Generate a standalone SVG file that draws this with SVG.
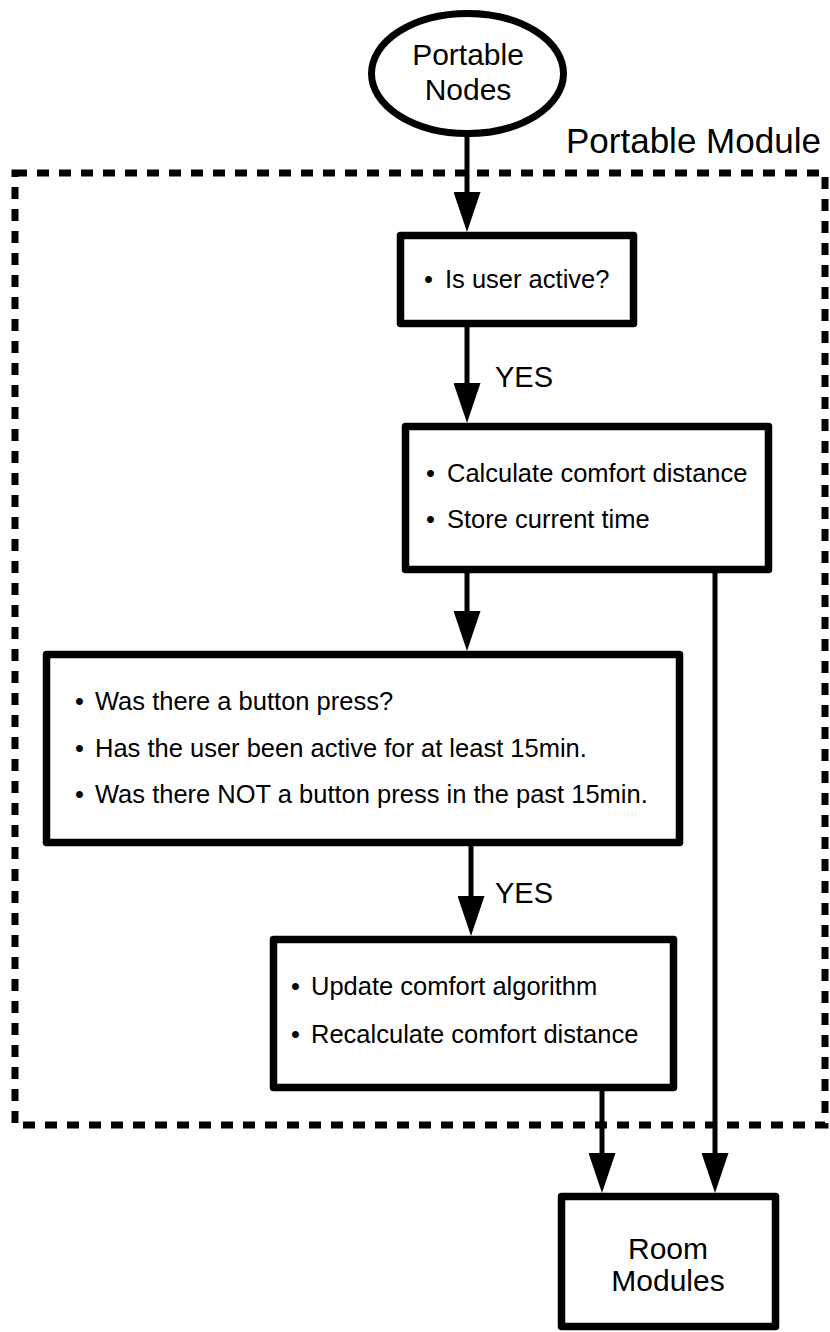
<svg xmlns="http://www.w3.org/2000/svg" width="830" height="1332" viewBox="0 0 830 1332">
  <style>
    .box { fill: #fff; stroke: #000; stroke-width: 7.5; stroke-linejoin: round; }
    .term { fill: #fff; stroke: #000; stroke-width: 7; }
    .frame { fill: none; stroke: #000; stroke-width: 7; stroke-dasharray: 12 10; }
    .link { fill: none; stroke: #000; stroke-width: 5; marker-end: url(#head); }
    text { font-family: "Liberation Sans", Arial, sans-serif; fill: #000; }
    .t { font-size: 25.5px; }
    .big { font-size: 30px; text-anchor: middle; }
    .lbl { font-size: 29px; }
    .title { font-size: 35px; }
  </style>
  <defs>
    <marker id="head" markerUnits="userSpaceOnUse" markerWidth="40" markerHeight="27" refX="20" refY="13.5" orient="auto">
      <path d="M0,0 L40,13.5 L0,27 Z" fill="#000"/>
    </marker>
  </defs>

  <rect width="830" height="1332" fill="#fff"/>

  <!-- module boundary -->
  <g id="portable-module">
    <rect class="frame" x="15" y="173" width="810" height="952"/>
    <text class="title" x="566" y="153">Portable Module</text>
  </g>

  <!-- connectors -->
  <g id="connectors">
    <path class="link" d="M467,136 V212"/>
    <path class="link" d="M467,327 V403"/>
    <path class="link" d="M467,573 V631"/>
    <path class="link" d="M471,846 V916"/>
    <path class="link" d="M602,1091 V1173"/>
    <path class="link" d="M715,573 V1173"/>
    <text class="lbl" x="495" y="387">YES</text>
    <text class="lbl" x="495" y="903">YES</text>
  </g>

  <g id="portable-nodes">
    <ellipse class="term" cx="467.5" cy="73.5" rx="96" ry="60"/>
    <text class="big" x="468" y="65">Portable</text>
    <text class="big" x="468" y="100">Nodes</text>
  </g>

  <g id="user-active">
    <rect class="box" x="400.5" y="235.5" width="233" height="88"/>
    <text class="t" y="288"><tspan x="424">•</tspan><tspan x="445">Is user active?</tspan></text>
  </g>

  <g id="comfort-distance">
    <rect class="box" x="405.5" y="426.5" width="363" height="143"/>
    <text class="t" y="482"><tspan x="426">•</tspan><tspan x="447">Calculate comfort distance</tspan></text>
    <text class="t" y="528"><tspan x="426">•</tspan><tspan x="447">Store current time</tspan></text>
  </g>

  <g id="feedback-check">
    <rect class="box" x="46.5" y="654.5" width="633" height="188"/>
    <text class="t" y="710"><tspan x="75">•</tspan><tspan x="95">Was there a button press?</tspan></text>
    <text class="t" y="757"><tspan x="75">•</tspan><tspan x="95">Has the user been active for at least 15min.</tspan></text>
    <text class="t" y="803"><tspan x="75">•</tspan><tspan x="95">Was there NOT a button press in the past 15min.</tspan></text>
  </g>

  <g id="update-algorithm">
    <rect class="box" x="273.5" y="939.5" width="400" height="148"/>
    <text class="t" y="995"><tspan x="291">•</tspan><tspan x="311">Update comfort algorithm</tspan></text>
    <text class="t" y="1043"><tspan x="291">•</tspan><tspan x="311">Recalculate comfort distance</tspan></text>
  </g>

  <g id="room-modules">
    <rect class="box" x="561.5" y="1196.5" width="214" height="130"/>
    <text class="big" x="668" y="1259">Room</text>
    <text class="big" x="668" y="1291">Modules</text>
  </g>
</svg>
